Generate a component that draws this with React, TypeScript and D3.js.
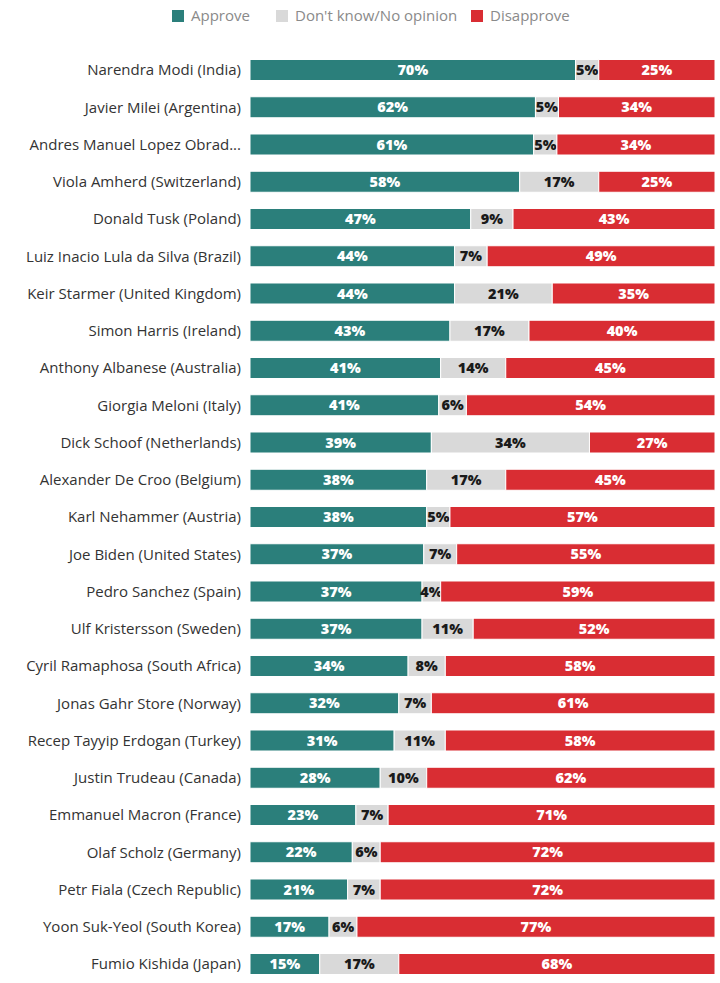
import { scaleBand, scaleLinear, stack, stackOffsetExpand } from 'd3'

const LEADERS = [
  'Narendra Modi (India)',
  'Javier Milei (Argentina)',
  'Andres Manuel Lopez Obrad...',
  'Viola Amherd (Switzerland)',
  'Donald Tusk (Poland)',
  'Luiz Inacio Lula da Silva (Brazil)',
  'Keir Starmer (United Kingdom)',
  'Simon Harris (Ireland)',
  'Anthony Albanese (Australia)',
  'Giorgia Meloni (Italy)',
  'Dick Schoof (Netherlands)',
  'Alexander De Croo (Belgium)',
  'Karl Nehammer (Austria)',
  'Joe Biden (United States)',
  'Pedro Sanchez (Spain)',
  'Ulf Kristersson (Sweden)',
  'Cyril Ramaphosa (South Africa)',
  'Jonas Gahr Store (Norway)',
  'Recep Tayyip Erdogan (Turkey)',
  'Justin Trudeau (Canada)',
  'Emmanuel Macron (France)',
  'Olaf Scholz (Germany)',
  'Petr Fiala (Czech Republic)',
  'Yoon Suk-Yeol (South Korea)',
  'Fumio Kishida (Japan)',
]

const APPROVE = [70, 62, 61, 58, 47, 44, 44, 43, 41, 41, 39, 38, 38, 37, 37, 37, 34, 32, 31, 28, 23, 22, 21, 17, 15]
const DONT_KNOW = [5, 5, 5, 17, 9, 7, 21, 17, 14, 6, 34, 17, 5, 7, 4, 11, 8, 7, 11, 10, 7, 6, 7, 6, 17]
const DISAPPROVE = [25, 34, 34, 25, 43, 49, 35, 40, 45, 54, 27, 45, 57, 55, 59, 52, 58, 61, 58, 62, 71, 72, 72, 77, 68]

const SERIES = ['Approve', "Don't know/No opinion", 'Disapprove']
const COLORS = ['#2b7f7b', '#d9d9d9', '#d92d33']
const TEXT_COLORS = ['#ffffff', '#1a1a1a', '#ffffff']

const W = 720
const H = 983
const LEFT = 250
const RIGHT = 715
const STEP = 37.25
const TOP = 70 - STEP / 2

const FONT = '"Open Sans", Lato, sans-serif'

type Row = { name: string; a: number; d: number; n: number }

export default function App() {
  const rows: Row[] = LEADERS.map((name, i) => ({
    name,
    a: APPROVE[i],
    d: DONT_KNOW[i],
    n: DISAPPROVE[i],
  }))
  const keys = ['a', 'd', 'n'] as const
  // rows sum to 99–101, so normalise each bar to full width
  const stacked = stack<Row>().keys(keys as unknown as string[]).offset(stackOffsetExpand)(rows)

  const x = scaleLinear().domain([0, 1]).range([LEFT, RIGHT])
  const y = scaleBand<string>()
    .domain(LEADERS)
    .range([TOP, TOP + STEP * LEADERS.length])
    .paddingInner(0.436)
    .paddingOuter(0.218)

  const legendX = [172, 276, 471]

  return (
    <svg width={W} height={H} viewBox={`0 0 ${W} ${H}`} style={{ position: 'absolute', left: 0, top: 0 }}>
      <rect width={W} height={H} fill="#ffffff" />
      {SERIES.map((s, i) => (
        <g key={s} transform={`translate(${legendX[i]},10)`}>
          <rect width={12} height={12} fill={COLORS[i]} />
          <text x={19} y={11} fontFamily={FONT} fontSize={15} fill="#8a8a8a">
            {s}
          </text>
        </g>
      ))}

      {rows.map((r) => (
        <text
          key={r.name}
          x={241}
          y={(y(r.name) ?? 0) + y.bandwidth() / 2}
          dy="0.36em"
          textAnchor="end"
          fontFamily={FONT}
          fontSize={15}
          fill="#333333"
        >
          {r.name}
        </text>
      ))}

      {stacked.map((layer, si) => (
        <g key={si}>
          {layer.map((seg, ri) => {
            const name = LEADERS[ri]
            const x0 = x(seg[0])
            const x1 = x(seg[1])
            const yy = y(name) ?? 0
            const val = (rows[ri] as any)[keys[si]] as number
            return (
              <g key={name}>
                <rect
                  x={x0}
                  y={yy}
                  width={Math.max(0, x1 - x0)}
                  height={y.bandwidth()}
                  fill={COLORS[si]}
                  stroke="#ffffff"
                  strokeWidth={1}
                />
                <text
                  x={(x0 + x1) / 2}
                  y={yy + y.bandwidth() / 2}
                  dy="0.36em"
                  textAnchor="middle"
                  fontFamily={FONT}
                  fontWeight={800}
                  fontSize={14.5}
                  fill={TEXT_COLORS[si]}
                >
                  {val}%
                </text>
              </g>
            )
          })}
        </g>
      ))}
    </svg>
  )
}
